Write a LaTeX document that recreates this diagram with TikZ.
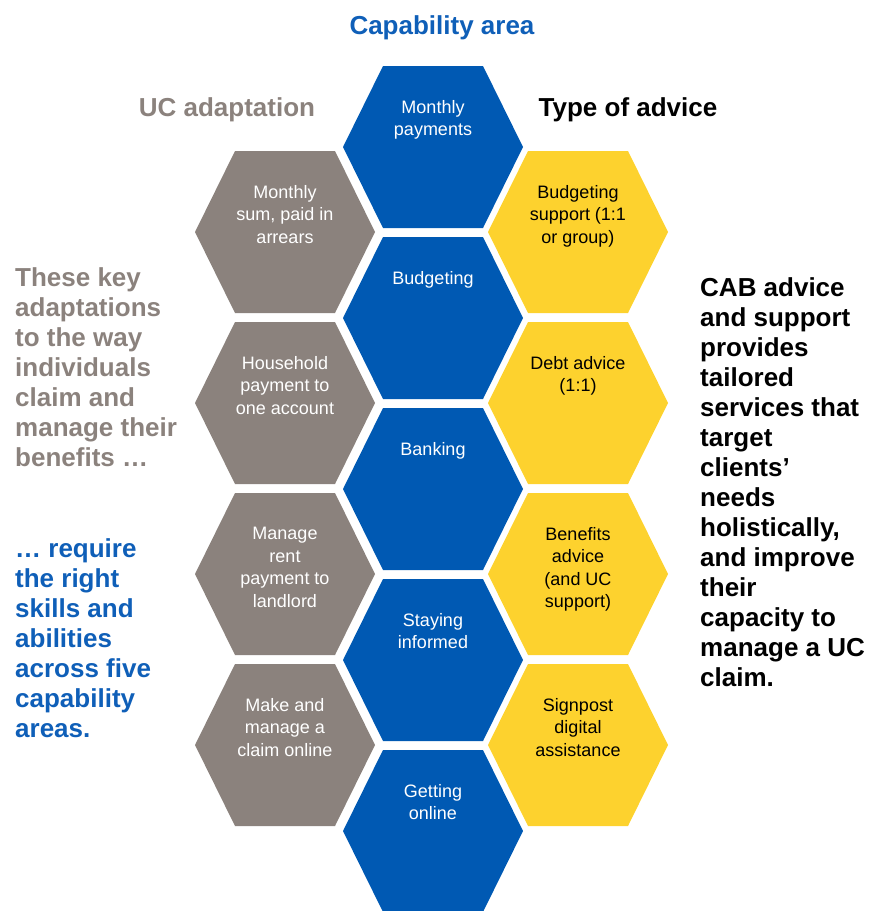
\documentclass[tikz,border=0pt]{standalone}
\usepackage{fontspec}
\setmainfont{Liberation Sans}
\definecolor{hexblue}{HTML}{0059B3}
\definecolor{hexgray}{HTML}{8B827D}
\definecolor{hexyellow}{HTML}{FDD22E}
\definecolor{titleblue}{HTML}{0F5FB8}
\begin{document}
\begin{tikzpicture}[x=1pt,y=-1pt,
  hex/.pic={\path[pic actions] (-90,0) -- (-50,-81) -- (50,-81) -- (90,0) -- (50,81) -- (-50,81) -- cycle;},
  hexlabel/.style={anchor=north, align=center, inner sep=0pt, font=\fontsize{18}{22.5}\selectfont},
  wlabel/.style={hexlabel, text=white},
  klabel/.style={hexlabel, text=black},
  heading/.style={anchor=base, inner sep=0pt, font=\bfseries\fontsize{26}{30}\selectfont},
  bodytext/.style={anchor=north west, align=left, inner sep=0pt, font=\bfseries\fontsize{26}{30}\selectfont}
]
\useasboundingbox (0,0) rectangle (870,911);
% blue column
\pic[fill=hexblue] (b1) at (433,147) {hex};
\pic[fill=hexblue] (b2) at (433,318) {hex};
\pic[fill=hexblue] (b3) at (433,489) {hex};
\pic[fill=hexblue] (b4) at (433,660) {hex};
\pic[fill=hexblue] (b5) at (433,831) {hex};
% gray column
\pic[fill=hexgray] (g1) at (285,232) {hex};
\pic[fill=hexgray] (g2) at (285,403) {hex};
\pic[fill=hexgray] (g3) at (285,574) {hex};
\pic[fill=hexgray] (g4) at (285,745) {hex};
% yellow column
\pic[fill=hexyellow] (y1) at (578,232) {hex};
\pic[fill=hexyellow] (y2) at (578,403) {hex};
\pic[fill=hexyellow] (y3) at (578,574) {hex};
\pic[fill=hexyellow] (y4) at (578,745) {hex};
% labels
\node[wlabel] (b1t) at (433,100) {Monthly\\payments};
\node[wlabel] (b2t) at (433,271) {Budgeting};
\node[wlabel] (b3t) at (433,442) {Banking};
\node[wlabel] (b4t) at (433,613) {Staying\\informed};
\node[wlabel] (b5t) at (433,784) {Getting\\online};
\node[wlabel] (g1t) at (285,185) {Monthly\\sum, paid in\\arrears};
\node[wlabel] (g2t) at (285,356) {Household\\payment to\\one account};
\node[wlabel] (g3t) at (285,527) {Manage\\rent\\payment to\\landlord};
\node[wlabel] (g4t) at (285,698) {Make and\\manage a\\claim online};
\node[klabel] (y1t) at (578,185) {Budgeting\\support (1:1\\or group)};
\node[klabel] (y2t) at (578,356) {Debt advice\\(1:1)};
\node[klabel] (y3t) at (578,527) {Benefits\\advice\\(and UC\\support)};
\node[klabel] (y4t) at (578,698) {Signpost\\digital\\assistance};
% headings
\node[heading, text=titleblue] (h1) at (442,34) {Capability area};
\node[heading, text=hexgray] (h2) at (227,116) {UC adaptation};
\node[heading, text=black] (h3) at (628,116) {Type of advice};
% side texts
\node[bodytext, text=hexgray] (lt) at (15,267) {These key\\adaptations\\to the way\\individuals\\claim and\\manage their\\benefits …};
\node[bodytext, text=titleblue] (lb) at (15,538) {… require\\the right\\skills and\\abilities\\across five\\capability\\areas.};
\node[bodytext, text=black] (rt) at (700,277) {CAB advice\\and support\\provides\\tailored\\services that\\target\\clients’\\needs\\holistically,\\and improve\\their\\capacity to\\manage a UC\\claim.};
\end{tikzpicture}
\end{document}
